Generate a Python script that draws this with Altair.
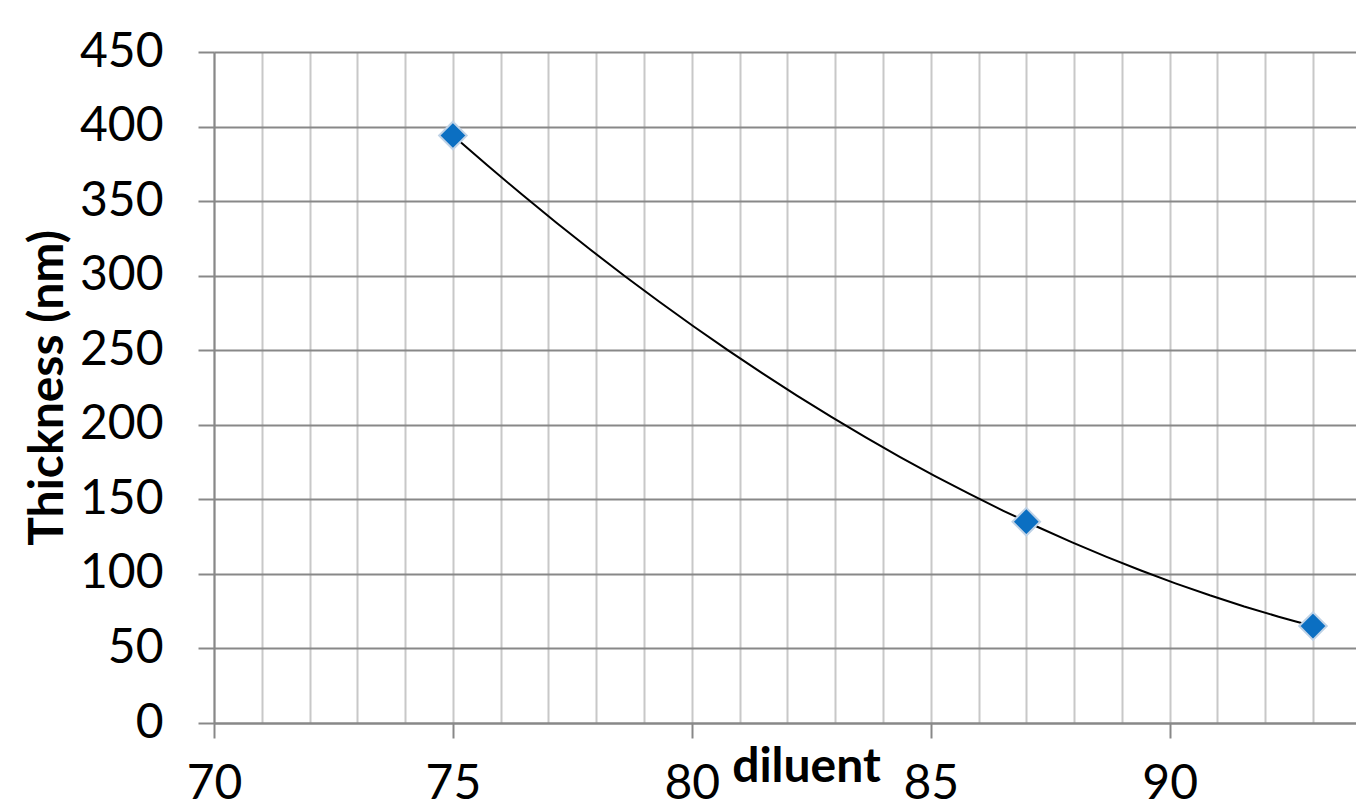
import altair as alt
import pandas as pd

# data
diluent = [75, 87, 93]
thickness = [394, 135, 65]

x_grid_values = list(range(70, 94))
y_tick_values = [0, 50, 100, 150, 200, 250, 300, 350, 400, 450]

df = pd.DataFrame({"x": diluent, "y": thickness})

FONT = "Lato"

x_enc = alt.X(
    "x:Q",
    scale=alt.Scale(domain=[70, 93.9], nice=False, zero=False),
    axis=alt.Axis(
        title="diluent",
        values=x_grid_values,
        labelExpr="datum.value % 5 === 0 ? datum.label : ''",
        labelOverlap=False,
        labelFlush=False,
        labelFont=FONT,
        labelFontSize=48,
        labelColor="#000000",
        labelPadding=22,
        tickSize=15,
        tickWidth=2,
        tickColor="#888888",
        tickOpacity={"condition": {"test": "datum.value % 5 === 0", "value": 1}, "value": 0},
        domainColor="#888888",
        domainWidth=2,
        grid=True,
        gridColor="#c8c8c8",
        gridWidth=2,
        titleFont=FONT,
        titleFontSize=48,
        titleFontWeight="bold",
        titleColor="#000000",
        titleX=592,
        titleY=58,
        titleAlign="center",
        titleBaseline="alphabetic",
    ),
)

y_enc = alt.Y(
    "y:Q",
    scale=alt.Scale(domain=[0, 450], nice=False, zero=True),
    axis=alt.Axis(
        title="Thickness (nm)",
        values=y_tick_values,
        labelFont=FONT,
        labelFontSize=48,
        labelColor="#000000",
        labelPadding=35,
        tickSize=16,
        tickWidth=2,
        tickColor="#888888",
        domainColor="#888888",
        domainWidth=2,
        grid=True,
        gridColor="#888888",
        gridWidth=2,
        titleFont=FONT,
        titleFontSize=48,
        titleFontWeight="bold",
        titleColor="#000000",
        titleX=-152,
        titleBaseline="alphabetic",
        titleAngle=270,
    ),
)

curve = (
    alt.Chart(df)
    .transform_regression("x", "y", method="poly", order=2)
    .mark_line(color="#000000", strokeWidth=2)
    .encode(x=x_enc, y=y_enc)
)

points = (
    alt.Chart(df)
    .mark_point(
        shape="diamond",
        filled=True,
        size=760,
        fill="#0b6fc2",
        stroke="#bfd2e6",
        strokeWidth=2,
        opacity=1,
    )
    .encode(x=x_enc, y=y_enc)
)

chart = (
    alt.layer(curve, points)
    .properties(
        width=1142,
        height=671,
        autosize=alt.AutoSizeParams(type="none"),
        padding={"left": 206, "top": 44, "right": 0, "bottom": 87},
        background="#ffffff",
    )
    .configure_view(stroke=None)
)

chart.save("out.html", embed_options={"renderer": "svg", "actions": False})
